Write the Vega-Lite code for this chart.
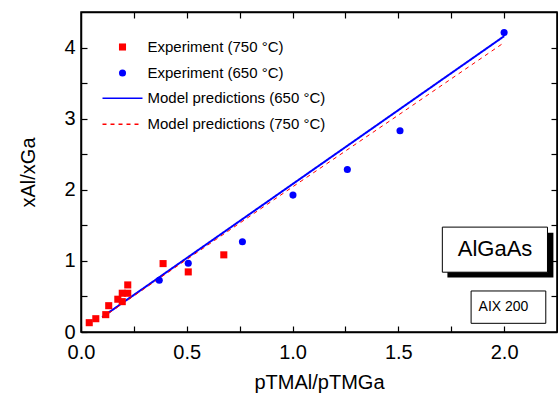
{
  "$schema": "https://vega.github.io/schema/vega-lite/v6.json",
  "width": 476,
  "height": 320,
  "autosize": {"type": "none"},
  "padding": {"left": 81, "top": 12, "right": 1, "bottom": 63},
  "config": {
    "font": "Liberation Sans",
    "view": {"stroke": "black", "strokeWidth": 1.5},
    "axis": {"grid": false, "domain": true, "domainColor": "black", "domainWidth": 1.5, "labelFont": "Liberation Sans", "titleFont": "Liberation Sans", "labelColor": "black", "titleColor": "black", "tickColor": "black", "titleFontWeight": "normal", "tickWidth": 1.2, "labelFontSize": 20, "titleFontSize": 20, "labelFlush": false}
  },
  "data": {
    "values": [
      {"p": 0.039, "r": 0.131, "series": "Experiment (750 °C)"},
      {"p": 0.070, "r": 0.187, "series": "Experiment (750 °C)"},
      {"p": 0.117, "r": 0.244, "series": "Experiment (750 °C)"},
      {"p": 0.131, "r": 0.370, "series": "Experiment (750 °C)"},
      {"p": 0.174, "r": 0.461, "series": "Experiment (750 °C)"},
      {"p": 0.195, "r": 0.427, "series": "Experiment (750 °C)"},
      {"p": 0.195, "r": 0.545, "series": "Experiment (750 °C)"},
      {"p": 0.221, "r": 0.545, "series": "Experiment (750 °C)"},
      {"p": 0.221, "r": 0.662, "series": "Experiment (750 °C)"},
      {"p": 0.388, "r": 0.962, "series": "Experiment (750 °C)"},
      {"p": 0.507, "r": 0.845, "series": "Experiment (750 °C)"},
      {"p": 0.675, "r": 1.085, "series": "Experiment (750 °C)"},
      {"p": 0.370, "r": 0.728, "series": "Experiment (650 °C)"},
      {"p": 0.507, "r": 0.968, "series": "Experiment (650 °C)"},
      {"p": 0.763, "r": 1.268, "series": "Experiment (650 °C)"},
      {"p": 1.002, "r": 1.925, "series": "Experiment (650 °C)"},
      {"p": 1.259, "r": 2.286, "series": "Experiment (650 °C)"},
      {"p": 1.508, "r": 2.830, "series": "Experiment (650 °C)"},
      {"p": 2.000, "r": 4.210, "series": "Experiment (650 °C)"},
      {"p": 0.1, "r": 0.21, "series": "Model predictions (650 °C)"},
      {"p": 0.5, "r": 1.04, "series": "Model predictions (650 °C)"},
      {"p": 1.0, "r": 2.08, "series": "Model predictions (650 °C)"},
      {"p": 1.5, "r": 3.12, "series": "Model predictions (650 °C)"},
      {"p": 2.0, "r": 4.16, "series": "Model predictions (650 °C)"},
      {"p": 0.1, "r": 0.20, "series": "Model predictions (750 °C)"},
      {"p": 0.5, "r": 1.02, "series": "Model predictions (750 °C)"},
      {"p": 1.0, "r": 2.04, "series": "Model predictions (750 °C)"},
      {"p": 1.5, "r": 3.05, "series": "Model predictions (750 °C)"},
      {"p": 2.0, "r": 4.07, "series": "Model predictions (750 °C)"}
    ]
  },
  "resolve": {"axis": {"x": "independent", "y": "independent"}, "scale": {"color": "independent", "shape": "independent", "strokeDash": "independent"}},
  "layer": [
    {
      "transform": [{"filter": "indexof(datum.series, 'Model') === 0"}],
      "mark": {"type": "line"},
      "encoding": {
        "x": {"field": "p", "type": "quantitative", "scale": {"domain": [0, 2.25], "nice": false, "zero": false},
              "axis": {"orient": "bottom", "title": "pTMAl/pTMGa", "values": [0, 0.25, 0.5, 0.75, 1, 1.25, 1.5, 1.75, 2], "labelExpr": "datum.value % 0.5 === 0 ? format(datum.value, '.1f') : ''", "tickSize": -6, "labelPadding": 16, "titlePadding": 10}},
        "y": {"field": "r", "type": "quantitative", "scale": {"domain": [0, 4.5], "nice": false},
              "axis": {"orient": "left", "title": "xAl/xGa", "values": [0, 0.5, 1, 1.5, 2, 2.5, 3, 3.5, 4], "labelExpr": "datum.value % 1 === 0 ? format(datum.value, 'd') : ''", "tickSize": -6, "labelPadding": 12, "titlePadding": 25}},
        "color": {"field": "series", "type": "nominal",
          "scale": {"domain": ["Model predictions (650 °C)", "Model predictions (750 °C)"], "range": ["#0000ff", "#ff0000"]},
          "legend": {"orient": "none", "legendX": 20.5, "legendY": 78.5, "title": null, "padding": 0, "labelFontSize": 15, "labelFont": "Liberation Sans", "labelColor": "black", "labelOffset": 4, "rowPadding": 10, "labelLimit": 400, "symbolSize": 1600, "symbolType": "stroke", "symbolStrokeWidth": 1.5, "symbolOpacity": 1, "clipHeight": 15.5}},
        "strokeDash": {"field": "series", "type": "nominal",
          "scale": {"domain": ["Model predictions (650 °C)", "Model predictions (750 °C)"], "range": [[1, 0], [4, 4]]}},
        "strokeWidth": {"condition": {"test": "datum.series === 'Model predictions (650 °C)'", "value": 2}, "value": 1}
      }
    },
    {
      "transform": [{"filter": "indexof(datum.series, 'Experiment') === 0"}],
      "mark": {"type": "point", "filled": true, "opacity": 1, "size": 50},
      "encoding": {
        "x": {"field": "p", "type": "quantitative", "axis": {"orient": "top", "title": null, "values": [0.25, 0.5, 0.75, 1, 1.25, 1.5, 1.75, 2], "labels": false, "tickSize": -6}},
        "y": {"field": "r", "type": "quantitative", "axis": {"orient": "right", "title": null, "values": [0.5, 1, 1.5, 2, 2.5, 3, 3.5, 4], "labels": false, "tickSize": -6}},
        "color": {"field": "series", "type": "nominal",
          "scale": {"domain": ["Experiment (750 °C)", "Experiment (650 °C)"], "range": ["#ff0000", "#0000ff"]},
          "legend": {"orient": "none", "legendX": 34, "legendY": 27.5, "title": null, "padding": 0, "labelFontSize": 15, "labelFont": "Liberation Sans", "labelColor": "black", "labelOffset": 17.5, "rowPadding": 10, "labelLimit": 400, "symbolSize": 50, "symbolOpacity": 1}},
        "shape": {"field": "series", "type": "nominal",
          "scale": {"domain": ["Experiment (750 °C)", "Experiment (650 °C)"], "range": ["square", "circle"]}}
      }
    },
    {
      "data": {"values": [{}]},
      "mark": {"type": "rect", "fill": "black"},
      "encoding": {
        "x": {"datum": 1.732, "type": "quantitative", "axis": null},
        "x2": {"datum": 2.233},
        "y": {"datum": 1.395, "type": "quantitative", "axis": null},
        "y2": {"datum": 0.765}
      }
    },
    {
      "data": {"values": [{}]},
      "mark": {"type": "rect", "fill": "white", "stroke": "black", "strokeWidth": 1},
      "encoding": {
        "x": {"datum": 1.708, "type": "quantitative", "axis": null},
        "x2": {"datum": 2.205},
        "y": {"datum": 1.475, "type": "quantitative", "axis": null},
        "y2": {"datum": 0.841}
      }
    },
    {
      "data": {"values": [{}]},
      "mark": {"type": "rect", "fill": "white", "stroke": "black", "strokeWidth": 1},
      "encoding": {
        "x": {"datum": 1.844, "type": "quantitative", "axis": null},
        "x2": {"datum": 2.197},
        "y": {"datum": 0.577, "type": "quantitative", "axis": null},
        "y2": {"datum": 0.122}
      }
    },
    {
      "data": {"values": [{}]},
      "mark": {"type": "text", "text": "AlGaAs", "fontSize": 22, "font": "Liberation Sans", "fontWeight": "normal", "fill": "black", "align": "center", "baseline": "middle"},
      "encoding": {
        "x": {"datum": 1.957, "type": "quantitative", "axis": null},
        "y": {"datum": 1.165, "type": "quantitative", "axis": null}
      }
    },
    {
      "data": {"values": [{}]},
      "mark": {"type": "text", "text": "AIX 200", "fontSize": 14, "font": "Liberation Sans", "fontWeight": "normal", "fill": "black", "align": "center", "baseline": "middle"},
      "encoding": {
        "x": {"datum": 1.997, "type": "quantitative", "axis": null},
        "y": {"datum": 0.348, "type": "quantitative", "axis": null}
      }
    }
  ]
}
